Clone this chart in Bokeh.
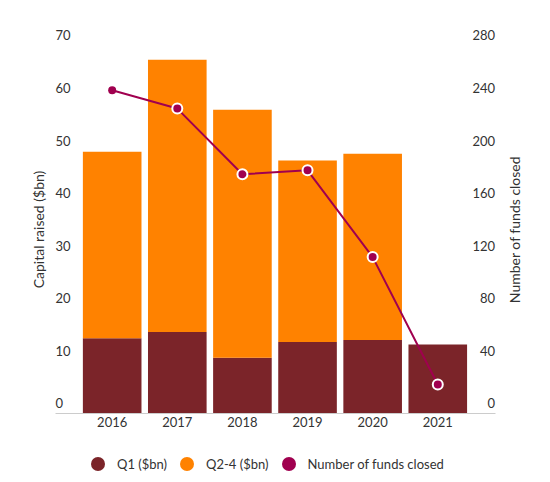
import math
from bokeh.plotting import figure
from bokeh.models import (Range1d, FixedTicker, ColumnDataSource, Legend, LegendItem,
                          CDSView, IndexFilter, Label)
from bokeh.embed import file_html
from bokeh.resources import INLINE
from bokeh.core.properties import value

# ---- data ----
years = ["2016", "2017", "2018", "2019", "2020", "2021"]
q1 = [14.3, 15.5, 10.6, 13.6, 14.0, 13.1]
q2_4 = [35.5, 51.8, 47.2, 34.5, 35.4, 0.0]
funds = [246, 232, 182, 185, 119, 22]
left_ticks = [0, 10, 20, 30, 40, 50, 60, 70]
right_ticks = [0, 40, 80, 120, 160, 200, 240, 280]

FONT = "Lato"
TEXT = "#333333"
C_Q1 = "#7b2429"
C_Q2 = "#ff8200"
C_LINE = "#a0004f"

# plot-area edges (data units) used for the axis rule and the y tick labels
X_LEFT, X_RIGHT = -0.87, 5.88
Y_MIN, Y_MAX = -13.13, 78.56
RATIO = 4  # right axis units per left axis unit (280 / 70)

xs = list(range(len(years)))
src = ColumnDataSource(dict(x=xs, q1=q1, q2_4=q2_4, funds=funds))

p = figure(width=550, height=482, output_backend="svg", toolbar_location=None, title=None,
           x_range=Range1d(-1.715, 6.731), y_range=Range1d(Y_MIN, Y_MAX),
           min_border_left=0, min_border_right=0, min_border_top=0, min_border_bottom=0,
           y_axis_location=None)
p.extra_y_ranges = {"funds": Range1d(Y_MIN * RATIO, Y_MAX * RATIO)}
p.outline_line_color = None
p.xgrid.visible = False
p.ygrid.visible = False
p.background_fill_color = "white"
p.border_fill_color = "white"

# x axis, fixed at y = 0
xa = p.xaxis[0]
xa.fixed_location = 0
xa.bounds = (X_LEFT, X_RIGHT)
xa.ticker = FixedTicker(ticks=xs)
xa.major_label_overrides = {i: y for i, y in enumerate(years)}
xa.axis_line_color = "#cccccc"
xa.axis_line_width = 1
xa.major_tick_line_color = None
xa.minor_tick_line_color = None
xa.major_tick_out = 0
xa.major_tick_in = 0
xa.major_label_standoff = 4
xa.major_label_text_font = FONT
xa.major_label_text_font_size = "13px"
xa.major_label_text_color = TEXT

# bars
p.vbar_stack(["q1", "q2_4"], x="x", width=0.9, color=[C_Q1, C_Q2], line_color=None, source=src)

# line + markers
p.line("x", "funds", source=src, y_range_name="funds", line_color=C_LINE, line_width=2)
p.scatter("x", "funds", source=src, view=CDSView(filter=IndexFilter([0])), y_range_name="funds",
          size=8, fill_color=C_LINE, line_color=None)
p.scatter("x", "funds", source=src, view=CDSView(filter=IndexFilter(list(range(1, len(years))))),
          y_range_name="funds", size=10, fill_color=C_LINE, line_color="white", line_width=2)

# y tick labels (above their tick values)
lsrc = ColumnDataSource(dict(y=left_ticks, t=[str(v) for v in left_ticks],
                             x=[X_LEFT] * len(left_ticks)))
p.text(x="x", y="y", text="t", source=lsrc, text_align="left", text_baseline="middle",
       y_offset=-10, text_font=value(FONT), text_font_size="13px", text_color=TEXT)
rsrc = ColumnDataSource(dict(y=right_ticks, t=[str(v) for v in right_ticks],
                             x=[X_RIGHT] * len(right_ticks)))
p.text(x="x", y="y", text="t", source=rsrc, y_range_name="funds", text_align="right",
       text_baseline="middle", y_offset=-10, text_font=value(FONT), text_font_size="13px",
       text_color=TEXT)

# axis titles (read bottom to top)
for txt, sx in (("Capital raised ($bn)", 38), ("Number of funds closed", 514)):
    p.add_layout(Label(x=sx, y=253, x_units="screen", y_units="screen", text=txt,
                       angle=math.pi / 2, text_align="center", text_baseline="middle",
                       text_font=FONT, text_font_size="14px", text_color=TEXT))

# legend (circle markers; dummy renderers with no visible point)
nan = float("nan")
r1 = p.scatter([nan], [nan], fill_color=C_Q1, line_color=None)
r2 = p.scatter([nan], [nan], fill_color=C_Q2, line_color=None)
r3 = p.scatter([nan], [nan], fill_color=C_LINE, line_color=None)
legend = Legend(items=[LegendItem(label="Q1 ($bn)", renderers=[r1]),
                       LegendItem(label="Q2-4 ($bn)", renderers=[r2]),
                       LegendItem(label="Number of funds closed", renderers=[r3])],
                orientation="horizontal", location=(80, 1), glyph_width=35, glyph_height=35,
                label_standoff=2, spacing=2, padding=0, margin=0, border_line_color=None,
                background_fill_color=None, label_text_font=FONT, label_text_font_size="13px",
                label_text_color=TEXT)
p.add_layout(legend, "center")

open("out.html", "w").write(file_html(p, INLINE))
